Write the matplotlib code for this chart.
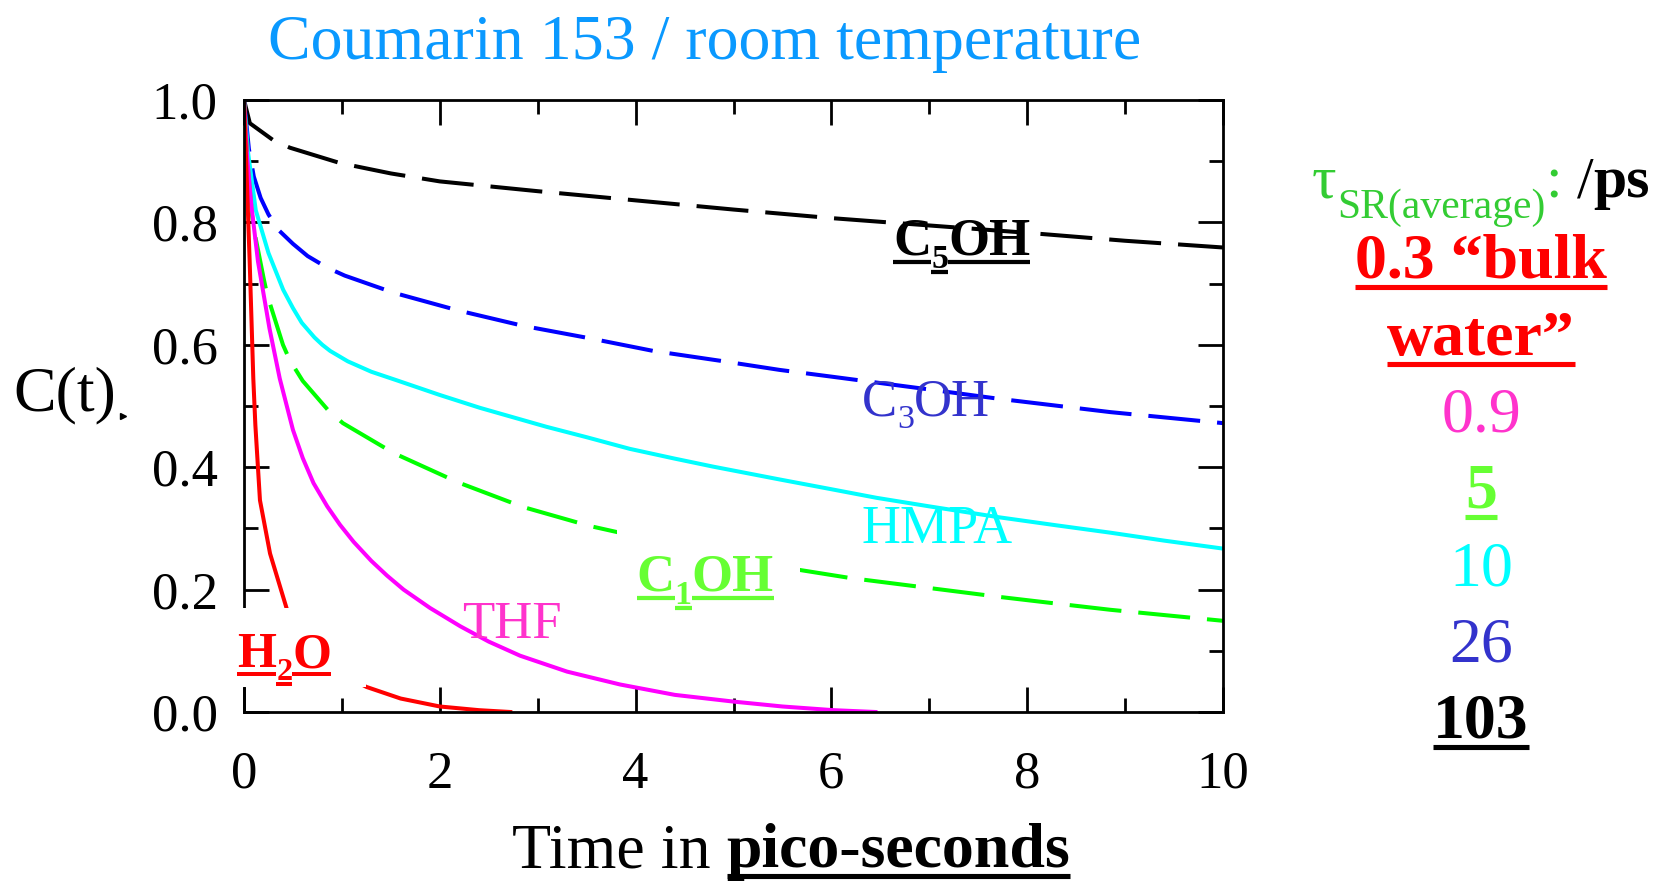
import matplotlib
matplotlib.use("Agg")
import matplotlib.pyplot as plt
from matplotlib.lines import Line2D
from matplotlib.patches import Rectangle
from matplotlib.transforms import IdentityTransform

plt.rcParams['font.family'] = ['Liberation Serif', 'DejaVu Serif']

# solvation correlation functions C(t), t in ps
t_c5oh = [0, 0.06, 0.31, 0.47, 0.98, 1.5, 2.0, 3.0, 4.0, 5.0, 6.0, 7.0, 8.0, 9.0, 10.0]
c_c5oh = [1.0, 0.962, 0.933, 0.922, 0.897, 0.880, 0.867, 0.851, 0.836, 0.821, 0.807,
          0.795, 0.783, 0.770, 0.759]

t_c3oh = [0, 0.05, 0.1, 0.17, 0.25, 0.35, 0.5, 0.65, 0.85, 1.03, 1.53, 2.19, 2.85, 3.52,
          4.18, 4.86, 5.47, 6.0, 7.0, 7.7, 8.85, 10.0]
c_c3oh = [1.0, 0.92, 0.875, 0.840, 0.813, 0.788, 0.765, 0.745, 0.726, 0.713, 0.685,
          0.656, 0.631, 0.611, 0.590, 0.574, 0.559, 0.548, 0.527, 0.512, 0.490, 0.472]

t_hmpa = [0, 0.04, 0.12, 0.25, 0.4, 0.5, 0.59, 0.72, 0.8, 0.88, 1.06, 1.3, 1.56, 2.0,
          2.41, 3.09, 3.5, 3.94, 4.4, 4.79, 5.47, 6.0, 6.46, 7.0, 7.72, 8.3, 8.85, 9.4, 10.0]
c_hmpa = [1.0, 0.916, 0.82, 0.75, 0.69, 0.660, 0.636, 0.612, 0.600, 0.590, 0.573, 0.556,
          0.542, 0.518, 0.497, 0.466, 0.449, 0.430, 0.414, 0.401, 0.380, 0.364, 0.350,
          0.336, 0.318, 0.305, 0.293, 0.280, 0.267]

t_c1oh = [0, 0.04, 0.058, 0.082, 0.102, 0.204, 0.238, 0.398, 0.467, 0.6, 0.86, 1.01,
          1.53, 2.19, 2.85, 3.53, 3.81, 4.5, 5.0, 5.68, 6.19, 7.72, 8.2, 8.85, 10.0]
c_c1oh = [1.0, 0.89, 0.856, 0.812, 0.788, 0.706, 0.681, 0.600, 0.575, 0.541, 0.493,
          0.472, 0.423, 0.375, 0.335, 0.304, 0.294, 0.270, 0.253, 0.232, 0.219, 0.188,
          0.179, 0.167, 0.149]

t_thf = [0, 0.03, 0.075, 0.143, 0.26, 0.365, 0.5, 0.6, 0.71, 0.85, 0.98, 1.12, 1.3, 1.46,
         1.63, 1.9, 2.21, 2.5, 2.82, 3.3, 3.84, 4.4, 5.0, 5.5, 6.02, 6.45]
c_thf = [1.0, 0.91, 0.828, 0.736, 0.627, 0.545, 0.461, 0.415, 0.374, 0.336, 0.306, 0.278,
         0.247, 0.223, 0.200, 0.170, 0.140, 0.115, 0.092, 0.066, 0.045, 0.028, 0.017,
         0.009, 0.003, 0.0]

t_h2o = [0, 0.034, 0.058, 0.095, 0.116, 0.163, 0.266, 0.436, 0.6, 0.8, 1.0, 1.25,
         1.6, 2.0, 2.4, 2.72]
c_h2o = [1.0, 0.845, 0.736, 0.545, 0.469, 0.346, 0.259, 0.169, 0.12, 0.085, 0.062,
         0.041, 0.022, 0.009, 0.003, 0.0]

x_ticks = [0, 2, 4, 6, 8, 10]
y_ticks = [0.0, 0.2, 0.4, 0.6, 0.8, 1.0]
tau_values = ['0.9', '5', '10', '26', '103']

W, H = 1663, 885
fig = plt.figure(figsize=(W / 100, H / 100), dpi=100)
ax = fig.add_axes([244 / W, 1 - 712 / H, 979 / W, 612 / H])

lw = 2.9
px = lw * 100 / 72
dash = (52 / px, 17 / px)
ax.plot(t_c5oh, c_c5oh, color='black', lw=lw, dashes=dash)
ax.plot(t_c3oh, c_c3oh, color='#0000ff', lw=lw, dashes=dash)
ax.plot(t_hmpa, c_hmpa, color='#00ffff', lw=lw)
ax.plot(t_c1oh, c_c1oh, color='#00ff00', lw=lw, dashes=dash)
ax.plot(t_thf, c_thf, color='#ff00ff', lw=lw)
ax.plot(t_h2o, c_h2o, color='#ff0000', lw=lw)

ax.set_xlim(0, 10)
ax.set_ylim(0, 1.0)
ax.set_xticks(x_ticks)
ax.set_xticklabels([str(v) for v in x_ticks])
ax.set_yticks(y_ticks)
ax.set_yticklabels(['%.1f' % v for v in y_ticks])
ax.set_xticks(range(1, 10, 2), minor=True)
ax.set_yticks([0.1, 0.3, 0.5, 0.7, 0.9], minor=True)
ax.tick_params(which='both', direction='in', top=True, right=True, width=2, labelsize=38)
ax.tick_params(which='major', length=18)
ax.tick_params(which='minor', length=10)
ax.tick_params(axis='y', pad=19)
ax.tick_params(axis='x', pad=28)
for s in ax.spines.values():
    s.set_linewidth(2)

# white boxes behind the H2O and C1OH labels
ax.add_patch(Rectangle((-0.12, 0.041), 1.37, 0.129, facecolor='white', edgecolor='none',
                       clip_on=False, zorder=3))
ax.add_patch(Rectangle((3.81, 0.155), 1.87, 0.145, facecolor='white', edgecolor='none',
                       clip_on=False, zorder=3))

fig.canvas.draw()
rend = fig.canvas.get_renderer()


def rich(x, y, parts, ha='left'):
    """parts: (text, size, drop_px, color, bold, underline); x, y = baseline in pixels"""
    items = []
    main = max(p[1] for p in parts)
    for txt, size, drop, color, bold, ul in parts:
        t = fig.text(0, 0, txt, transform=IdentityTransform(), fontsize=size, color=color,
                     fontweight='bold' if bold else 'normal', va='baseline', ha='left',
                     zorder=5)
        w = t.get_window_extent(rend).width
        items.append((t, w, size, drop, color, ul))
    total = sum(i[1] for i in items)
    if ha == 'center':
        x -= total / 2
    for t, w, size, drop, color, ul in items:
        yy = y - drop
        t.set_position((x, yy))
        if ul:
            off = 0.135 * size * 100 / 72
            thick = 0.08 * main * 100 / 72 * 0.72
            fig.add_artist(Line2D([x, x + w], [yy - off, yy - off], transform=IdentityTransform(),
                                  color=color, lw=thick, solid_capstyle='butt', zorder=5))
        x += w


def label(tx, cy, parts):
    x, y = ax.transData.transform((tx, cy))
    rich(x, y, parts)


def chem(pre, sub, post, color, bold, ul, size=38):
    s2 = size * 0.645
    return [(pre, size, 0, color, bold, ul), (sub, s2, 13, color, bold, ul),
            (post, size, 0, color, bold, ul)]


label(6.63, 0.747, chem('C', '5', 'OH', 'black', True, True))
label(6.31, 0.485, chem('C', '3', 'OH', '#3333cc', False, False))
label(6.31, 0.276, [('HMPA', 39, 0, '#00ffff', False, False)])
label(4.01, 0.198, chem('C', '1', 'OH', '#66ff33', True, True))
label(2.23, 0.121, [('THF', 38, 0, '#ff33cc', False, False)])
label(-0.07, 0.0735, chem('H', '2', 'O', '#ff0000', True, True, size=36))

# title and axis labels
fig.text(705, H - 59, 'Coumarin 153 / room temperature', transform=IdentityTransform(),
         fontsize=46, color='#0a99ff', ha='center', va='baseline')
fig.text(13, H - 410, 'C(t)', transform=IdentityTransform(), fontsize=46, color='black',
         ha='left', va='baseline')
fig.add_artist(Line2D([123], [H - 416], transform=IdentityTransform(), marker='>',
                      markersize=5, color='black', lw=0))
rich(512, H - 867, [('Time in ', 46, 0, 'black', False, False),
                    ('pico-seconds', 46, 0, 'black', True, True)])

# average solvation times column
cx = 1481
rich(cx, H - 197, [('\u03c4', 44, 0, '#33cc33', False, False),
                   ('SR(average)', 30, 21, '#33cc33', False, False),
                   (':', 43, 0, '#33cc33', False, False),
                   (' /', 43, 0, 'black', False, False),
                   ('ps', 43, 0, 'black', True, False)], ha='center')
rich(cx, H - 278, [('0.3 \u201cbulk', 46, 0, '#ff0000', True, True)], ha='center')
rich(cx, H - 355, [('water\u201d', 46, 0, '#ff0000', True, True)], ha='center')
tau_styles = [('#ff33cc', False, False), ('#66ff33', True, True), ('#00ffff', False, False),
              ('#3333cc', False, False), ('black', True, True)]
tau_base = [432, 508, 585, 662, 738]
for v, (c, b, u), yb in zip(tau_values, tau_styles, tau_base):
    rich(cx, H - yb, [(v, 46, 0, c, b, u)], ha='center')

fig.savefig('out.png', dpi=100)
